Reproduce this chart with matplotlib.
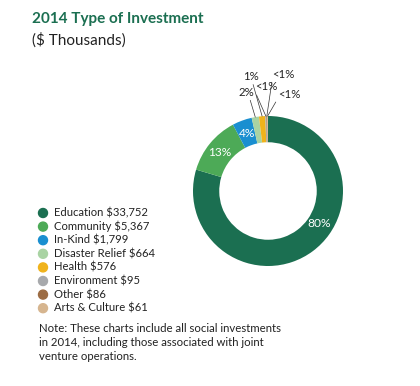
import matplotlib
matplotlib.use("Agg")
import matplotlib.pyplot as plt
import numpy as np

categories = ["Education", "Community", "In-Kind", "Disaster Relief", "Health",
              "Environment", "Other", "Arts & Culture"]
values = [33752, 5367, 1799, 664, 576, 95, 86, 61]
value_labels = ["$33,752", "$5,367", "$1,799", "$664", "$576", "$95", "$86", "$61"]
pct_labels = ["80%", "13%", "4%", "2%", "1%", "<1%", "<1%", "<1%"]
colors = ["#1b6f51", "#4daa57", "#1a8fd0", "#a9d3a3", "#f0b31c", "#a7a9ac", "#9c6c44", "#d6b58f"]

FONT = ["Lato", "DejaVu Sans"]
plt.rcParams['font.family'] = FONT

W, H = 420, 386
fig = plt.figure(figsize=(W / 100, H / 100), dpi=100)

# donut axes: centre (268,191) px, radius 75 px
cx, cy, R = 268, 191, 75
L = 1.8
side = 2 * L * R
ax = fig.add_axes([(cx - side / 2) / W, (H - cy - side / 2) / H, side / W, side / H])
wedges, _ = ax.pie(values, colors=colors, startangle=90, counterclock=False,
                   radius=1.0, wedgeprops=dict(width=0.35, edgecolor='none'))
ax.set_xlim(-L, L)
ax.set_ylim(-L, L)
ax.set_aspect('equal')
ax.axis('off')

# inside labels (polar layout positions)
inside_pos = {0: (0.81, -32), 1: (0.82, 141), 2: (0.81, 110)}
for i, (r, a) in inside_pos.items():
    t = np.deg2rad(a)
    ax.text(r * np.cos(t), r * np.sin(t), pct_labels[i], color='white',
            fontsize=8.6, ha='center', va='center')

# outside labels with leader lines
outside_pos = {3: (-0.29, 1.32), 4: (-0.23, 1.53), 5: (-0.02, 1.39),
               6: (0.21, 1.56), 7: (0.29, 1.28)}
relpos = {3: (0.7, 0.0), 4: (0.6, 0.0), 5: (0.0, 0.0), 6: (0.0, 0.2), 7: (0.0, 0.3)}
for i, (tx, ty) in outside_pos.items():
    w = wedges[i]
    mid = np.deg2rad((w.theta1 + w.theta2) / 2)
    ax.annotate(pct_labels[i], xy=(np.cos(mid), np.sin(mid)), xytext=(tx, ty),
                fontsize=8.2, ha='center', va='center', color='#222222',
                arrowprops=dict(arrowstyle='-', lw=0.5, color='#333333',
                                relpos=relpos[i], shrinkA=0, shrinkB=0))

# titles
fig.text(32 / W, 1 - 19 / H, "2014 Type of Investment", color="#1b6f51",
         fontsize=11, fontweight='bold', ha='left', va='center')
fig.text(32 / W, 1 - 40 / H, "($ Thousands)", color="#222222",
         fontsize=11, ha='left', va='center')

# legend
y0, dy = 213, 13.6
for i, (c, n, v) in enumerate(zip(colors, categories, value_labels)):
    y = 1 - (y0 + i * dy) / H
    fig.patches.append(matplotlib.patches.Ellipse((43 / W, y), 9 / W, 9 / H,
                                                  transform=fig.transFigure,
                                                  color=c))
    fig.text(54 / W, y, f"{n} {v}", fontsize=8.1, color="#222222",
             ha='left', va='center')

note = ["Note: These charts include all social investments",
        "in 2014, including those associated with joint",
        "venture operations."]
for j, line in enumerate(note):
    fig.text(39 / W, 1 - (329 + j * 13.7) / H, line, fontsize=8.2,
             color="#222222", ha='left', va='center')

fig.savefig("out.png", dpi=100)
